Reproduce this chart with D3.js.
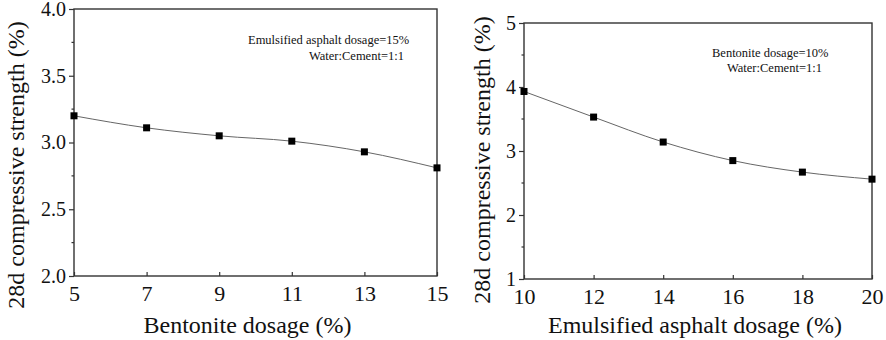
<!DOCTYPE html>
<html lang="en">
<head>
<meta charset="UTF-8">
<title>28d compressive strength</title>
<script src="https://d3js.org/d3.v7.min.js"></script>
<style>
    body { margin: 0; background: #fff; }
    svg { display: block; }
    text { font-family: "Liberation Serif", "Times New Roman", "DejaVu Serif", serif; fill: #111; }
</style>
</head>
<body>
<svg id="chart" width="886" height="340"></svg>
<script>
// left panel: bentonite dosage
const bentoniteDosage = [5, 7, 9, 11, 13, 15];
const strengthByBentonite = [3.20, 3.11, 3.05, 3.01, 2.93, 2.81];
const leftXTicks = [5, 7, 9, 11, 13, 15];
const leftYTicks = [2.0, 2.5, 3.0, 3.5, 4.0];
const leftNote = ["Emulsified asphalt dosage=15%", "Water:Cement=1:1"];

// right panel: emulsified asphalt dosage
const asphaltDosage = [10, 12, 14, 16, 18, 20];
const strengthByAsphalt = [3.93, 3.53, 3.14, 2.85, 2.67, 2.56];
const rightXTicks = [10, 12, 14, 16, 18, 20];
const rightYTicks = [1, 2, 3, 4, 5];
const rightNote = ["Bentonite dosage=10%", "Water:Cement=1:1"];

const yTitle = "28d compressive strength (%)";
const serif = "'Liberation Serif', 'Times New Roman', 'DejaVu Serif', serif";

const svg = d3.select("#chart");

function drawPanel(opt) {
    const x = d3.scaleLinear().domain(opt.xDomain).range([opt.left, opt.right]);
    const y = d3.scaleLinear().domain(opt.yDomain).range([opt.bottom, opt.top]);
    const g = svg.append("g").attr("font-family", serif);
    const axisColor = "#333";

    // frame
    g.append("rect")
        .attr("x", opt.left).attr("y", opt.top)
        .attr("width", opt.right - opt.left).attr("height", opt.bottom - opt.top)
        .attr("fill", "none").attr("stroke", axisColor).attr("stroke-width", 1.4);

    // y axis, ticks outward plus minor ticks
    const yAxis = g.append("g")
        .attr("transform", `translate(${opt.left},0)`)
        .call(d3.axisLeft(y).tickValues(opt.yTicks).tickFormat(opt.yFormat).tickSize(5).tickPadding(3));
    yAxis.attr("font-family", serif).attr("font-size", 20);
    yAxis.select(".domain").remove();
    yAxis.selectAll("line").attr("stroke", axisColor).attr("stroke-width", 1.2);
    yAxis.selectAll("text").attr("fill", "#111");
    const minorY = d3.pairs(opt.yTicks).map(p => (p[0] + p[1]) / 2);
    g.selectAll(".minor-y").data(minorY).join("line")
        .attr("x1", opt.left - 2.5).attr("x2", opt.left)
        .attr("y1", d => y(d)).attr("y2", d => y(d))
        .attr("stroke", axisColor).attr("stroke-width", 1.2);

    // x axis, small inward ticks
    const xAxis = g.append("g")
        .attr("transform", `translate(0,${opt.bottom})`)
        .call(d3.axisBottom(x).tickValues(opt.xTicks).tickSize(-4).tickPadding(9));
    xAxis.attr("font-family", serif).attr("font-size", 22);
    xAxis.select(".domain").remove();
    xAxis.selectAll("line").attr("stroke", axisColor).attr("stroke-width", 1.2);
    xAxis.selectAll("text").attr("fill", "#111");

    // line + square markers
    const pts = opt.xs.map((d, i) => [d, opt.ys[i]]);
    g.append("path")
        .attr("d", d3.line().x(d => x(d[0])).y(d => y(d[1])).curve(d3.curveMonotoneX)(pts))
        .attr("fill", "none").attr("stroke", "#666").attr("stroke-width", 1);
    g.selectAll(".pt").data(pts).join("rect")
        .attr("x", d => x(d[0]) - 3.5).attr("y", d => y(d[1]) - 3.5)
        .attr("width", 7).attr("height", 7).attr("fill", "#000");

    // notes
    opt.note.forEach((t, i) => {
        g.append("text")
            .attr("x", opt.noteX[i]).attr("y", opt.noteY[i])
            .attr("font-size", 12.5).text(t);
    });

    // axis titles
    g.append("text")
        .attr("x", (opt.left + opt.right) / 2 + opt.xTitleShift).attr("y", 333)
        .attr("text-anchor", "middle").attr("font-size", 24)
        .text(opt.xTitle);
    g.append("text")
        .attr("transform", `translate(${opt.yTitleX},${opt.yTitleY}) rotate(-90)`)
        .attr("text-anchor", "middle").attr("font-size", 24)
        .text(yTitle);
}

drawPanel({
    left: 74, right: 437, top: 9, bottom: 276,
    xDomain: [5, 15], yDomain: [2, 4],
    xTicks: leftXTicks, yTicks: leftYTicks, yFormat: d3.format(".1f"),
    xs: bentoniteDosage, ys: strengthByBentonite,
    note: leftNote, noteX: [248, 309], noteY: [44, 60],
    xTitle: "Bentonite dosage (%)", xTitleShift: -8,
    yTitleX: 24, yTitleY: 165
});

drawPanel({
    left: 524, right: 872, top: 23, bottom: 279,
    xDomain: [10, 20], yDomain: [1, 5],
    xTicks: rightXTicks, yTicks: rightYTicks, yFormat: d3.format("d"),
    xs: asphaltDosage, ys: strengthByAsphalt,
    note: rightNote, noteX: [712, 727], noteY: [57, 72],
    xTitle: "Emulsified asphalt dosage (%)", xTitleShift: -3,
    yTitleX: 490, yTitleY: 160
});
</script>
</body>
</html>
